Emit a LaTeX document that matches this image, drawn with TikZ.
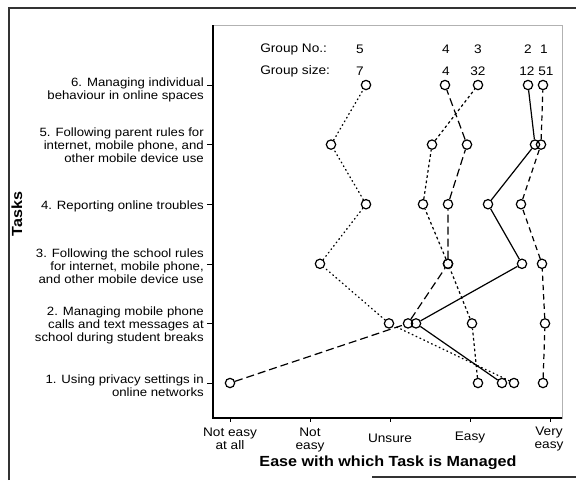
\documentclass[tikz,border=0pt]{standalone}
\usepackage{fontspec}
\setmainfont{Liberation Sans}[FakeStretch=1.1]
\usepackage{tikz}

\begin{document}
\begin{tikzpicture}[x=0.75pt,y=0.75pt,yscale=-1,xscale=1,
  pt/.style={draw,circle,inner sep=0pt,minimum size=7pt,line width=0.9pt},
  grpone/.style={line width=0.9pt,dash pattern=on 4pt off 3pt},
  grptwo/.style={line width=0.9pt},
  grpthree/.style={line width=0.9pt,dash pattern=on 2pt off 2pt},
  grpfour/.style={line width=0.9pt,dash pattern=on 6pt off 3pt},
  grpfive/.style={line width=1pt,dash pattern=on 0.6pt off 2.6pt,line cap=round},
  tasklbl/.style={anchor=east,align=right,inner sep=0pt,font=\fontsize{9}{9.8}\selectfont},
  ticklbl/.style={align=center,inner sep=0pt,font=\fontsize{9.3}{10}\selectfont},
  grplbl/.style={inner sep=0pt,font=\fontsize{9.3}{10}\selectfont}]

\useasboundingbox (0,0) rectangle (576,480);

% outer frame of the scan
\draw[line width=0.9pt,black!80] (9,480) -- (9,8) -- (576,8) ;
\draw[line width=0.9pt,black!80] (372,477) -- (576,477) ;

% plot box and axes
\draw[line width=0.5pt,gray!60] (213,25) rectangle (562,418) ;
\draw[line width=0.8pt] (213,25) -- (213,418) -- (562,418) ;

\draw (207,383) -- (213,383) ;
\draw (207,323.4) -- (213,323.4) ;
\draw (207,263.8) -- (213,263.8) ;
\draw (207,204.2) -- (213,204.2) ;
\draw (207,144.6) -- (213,144.6) ;
\draw (207,85) -- (213,85) ;

\draw (230,418) -- (230,422) ;
\draw (310,418) -- (310,422) ;
\draw (390,418) -- (390,422) ;
\draw (470,418) -- (470,422) ;
\draw (550,418) -- (550,422) ;

% group 1
\node[pt] (g1t1) at (543,383) {};
\node[pt] (g1t2) at (545,323.4) {};
\node[pt] (g1t3) at (542,263.8) {};
\node[pt] (g1t4) at (521,204.2) {};
\node[pt] (g1t5) at (541,144.6) {};
\node[pt] (g1t6) at (543,85) {};

% group 2
\node[pt] (g2t1) at (502,383) {};
\node[pt] (g2t2) at (416,323.4) {};
\node[pt] (g2t3) at (522,263.8) {};
\node[pt] (g2t4) at (488,204.2) {};
\node[pt] (g2t5) at (535,144.6) {};
\node[pt] (g2t6) at (528,85) {};

% group 3
\node[pt] (g3t1) at (478,383) {};
\node[pt] (g3t2) at (472,323.4) {};
\node[pt] (g3t3) at (448,263.8) {};
\node[pt] (g3t4) at (423,204.2) {};
\node[pt] (g3t5) at (432,144.6) {};
\node[pt] (g3t6) at (478,85) {};

% group 4
\node[pt] (g4t1) at (230,383) {};
\node[pt] (g4t2) at (408,323.4) {};
\node[pt] (g4t3) at (448,263.8) {};
\node[pt] (g4t4) at (448,204.2) {};
\node[pt] (g4t5) at (467,144.6) {};
\node[pt] (g4t6) at (445,85) {};

% group 5
\node[pt] (g5t1) at (514,383) {};
\node[pt] (g5t2) at (389,323.4) {};
\node[pt] (g5t3) at (320,263.8) {};
\node[pt] (g5t4) at (366,204.2) {};
\node[pt] (g5t5) at (331,144.6) {};
\node[pt] (g5t6) at (366,85) {};

\draw[grpone] (g1t1) -- (g1t2) -- (g1t3) -- (g1t4) -- (g1t5) -- (g1t6) ;
\draw[grptwo] (g2t1) -- (g2t2) -- (g2t3) -- (g2t4) -- (g2t5) -- (g2t6) ;
\draw[grpthree] (g3t1) -- (g3t2) -- (g3t3) -- (g3t4) -- (g3t5) -- (g3t6) ;
\draw[grpfour] (g4t1) -- (g4t2) -- (g4t3) -- (g4t4) -- (g4t5) -- (g4t6) ;
\draw[grpfive] (g5t1) -- (g5t2) -- (g5t3) -- (g5t4) -- (g5t5) -- (g5t6) ;

% group legend
\node[grplbl,anchor=west] (grpno) at (260,49) {Group No.:};
\node[grplbl,anchor=west] (grpsize) at (260,71) {Group size:};
\node[grplbl] (no5) at (360,49) {5};
\node[grplbl] (no4) at (446,49) {4};
\node[grplbl] (no3) at (478,49) {3};
\node[grplbl] (no2) at (528,49) {2};
\node[grplbl] (no1) at (544,49) {1};
\node[grplbl] (size5) at (360,71) {7};
\node[grplbl] (size4) at (446,71) {4};
\node[grplbl] (size3) at (478,71) {32};
\node[grplbl] (size2) at (527,71) {12};
\node[grplbl] (size1) at (546,71) {51};

% task labels
\node[tasklbl] (task6) at (204,90) {6. Managing individual\\behaviour in online spaces};
\node[tasklbl] (task5) at (204,145) {5. Following parent rules for\\internet, mobile phone, and\\other mobile device use};
\node[tasklbl] (task4) at (204,206) {4. Reporting online troubles};
\node[tasklbl] (task3) at (204,266) {3. Following the school rules\\for internet, mobile phone,\\and other mobile device use};
\node[tasklbl] (task2) at (204,325) {2. Managing mobile phone\\calls and text messages at\\school during student breaks};
\node[tasklbl] (task1) at (204,386) {1. Using privacy settings in\\online networks};

% axis labels
\node[ticklbl] (lvl1) at (230,439) {Not easy\\at all};
\node[ticklbl] (lvl2) at (310,440) {Not\\easy};
\node[ticklbl] (lvl3) at (390,438) {Unsure};
\node[ticklbl] (lvl4) at (470,438) {Easy};
\node[ticklbl] (lvl5) at (549,439) {Very\\easy};

\node[inner sep=0pt,font=\bfseries\fontsize{11}{12}\selectfont] (xtitle) at (388,463) {Ease with which Task is Managed};
\node[inner sep=0pt,rotate=90,font=\bfseries\fontsize{11}{12}\selectfont] (ytitle) at (17,214) {Tasks};

\end{tikzpicture}
\end{document}
